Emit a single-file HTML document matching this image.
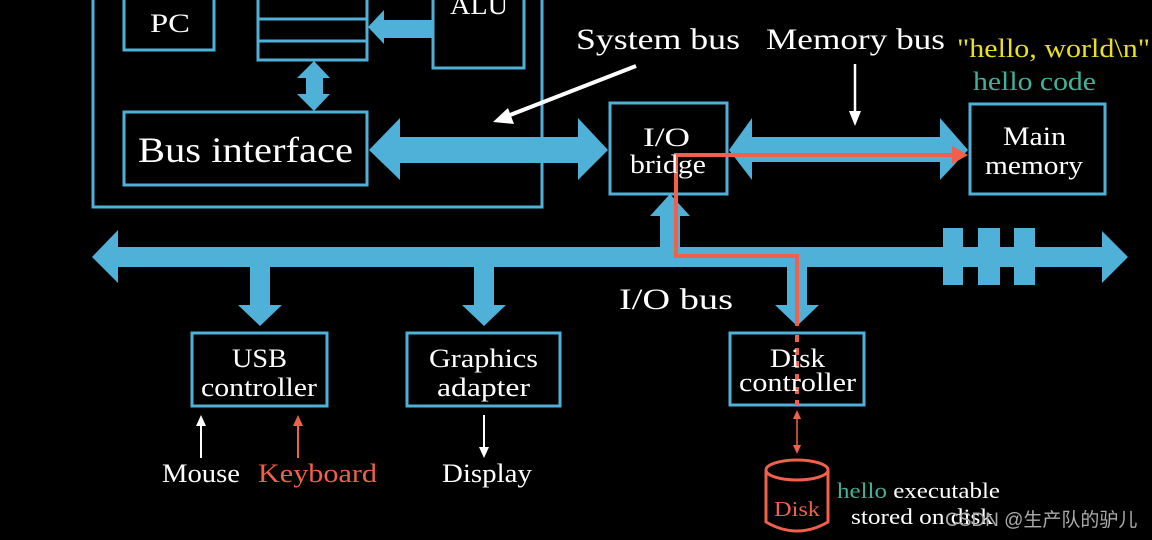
<!DOCTYPE html>
<html><head><meta charset="utf-8"><style>
html,body{margin:0;padding:0;background:#000;width:1152px;height:540px;overflow:hidden}
svg{display:block}
text{font-family:"Liberation Serif",serif;fill:#fff}
</style></head><body>
<svg width="1152" height="540" viewBox="0 0 1152 540" xmlns="http://www.w3.org/2000/svg">
<g fill="none" stroke="#4fb0d8" stroke-width="3">
<rect x="93" y="-10" width="449" height="217"/>
<rect x="124" y="-10" width="90" height="60"/>
<rect x="258" y="-10" width="109" height="70"/>
<line x1="258" y1="19" x2="367" y2="19"/>
<line x1="258" y1="41" x2="367" y2="41"/>
<rect x="433" y="-10" width="91" height="78"/>
<rect x="124" y="112" width="243" height="73"/>
<rect x="610" y="103" width="117" height="91"/>
<rect x="970" y="104" width="135" height="90"/>
<rect x="192" y="333" width="135" height="73"/>
<rect x="407" y="333" width="153" height="73"/>
<rect x="730" y="333" width="134" height="72"/>
</g>
<g fill="#4fb0d8">
<polygon points="368,27 384,10 384,20 433,20 433,38 384,38 384,44"/>
<polygon points="314,61 330,78 323,78 323,94 330,94 314,111 297,94 306,94 306,78 297,78"/>
<polygon points="369,150 400,118 400,137 578,137 578,118 608,150 578,180 578,163 400,163 400,180"/>
<polygon points="729,150 752,118 752,137 940,137 940,118 968,150 940,180 940,162 752,162 752,180"/>
<polygon points="92,257 118,230 118,247 1102,247 1102,231 1128,257 1102,283 1102,267 118,267 118,283"/>
<rect x="943" y="228" width="20" height="57"/>
<rect x="978" y="228" width="22" height="57"/>
<rect x="1014" y="228" width="21" height="57"/>
<polygon points="670,194 690,216 680,216 680,250 660,250 660,216 650,216"/>
<polygon points="250,265 270,265 270,305 282,305 260,326 238,305 250,305"/>
<polygon points="474,265 494,265 494,305 506,305 484,326 462,305 474,305"/>
<polygon points="787,265 807,265 807,305 819,305 797,326 775,305 787,305"/>
</g>
<polyline points="797,326 797,256 676,256 676,155 955,155" fill="none" stroke="#f0604a" stroke-width="4"/>
<polygon points="968,155 952,146 952,164" fill="#f0604a"/>
<line x1="797" y1="335" x2="797" y2="405" stroke="#f0604a" stroke-width="4" stroke-dasharray="7,6"/>
<line x1="797" y1="418" x2="797" y2="446" stroke="#f0604a" stroke-width="1.5"/>
<polygon points="797,410 793,419 801,419" fill="#f0604a"/>
<polygon points="797,454 793,445 801,445" fill="#f0604a"/>
<g fill="none" stroke="#f0604a" stroke-width="3">
<ellipse cx="797" cy="470" rx="31" ry="10"/>
<path d="M766,470 L766,522 Q797,540 828,522 L828,470"/>
</g>
<line x1="201" y1="458" x2="201" y2="424" stroke="#fff" stroke-width="2"/>
<polygon points="201,415 196,426 206,426" fill="#fff"/>
<line x1="298" y1="458" x2="298" y2="424" stroke="#f0604a" stroke-width="2"/>
<polygon points="298,415 293,426 303,426" fill="#f0604a"/>
<line x1="484" y1="415" x2="484" y2="449" stroke="#fff" stroke-width="2"/>
<polygon points="484,458 479,447 489,447" fill="#fff"/>
<line x1="636" y1="66" x2="505" y2="117" stroke="#fff" stroke-width="4"/>
<polygon points="493,122 508,108 514,124" fill="#fff"/>
<line x1="855" y1="64" x2="855" y2="112" stroke="#fff" stroke-width="2.5"/>
<polygon points="855,126 849,111 861,111" fill="#fff"/>
<g lengthAdjust="spacingAndGlyphs">
<text x="150" y="32" font-size="26" textLength="40" lengthAdjust="spacingAndGlyphs">PC</text>
<text x="450" y="14" font-size="26" textLength="58" lengthAdjust="spacingAndGlyphs">ALU</text>
<text x="138" y="162" font-size="36" textLength="215" lengthAdjust="spacingAndGlyphs">Bus interface</text>
<text x="643" y="146" font-size="26" textLength="47" lengthAdjust="spacingAndGlyphs">I/O</text>
<text x="630" y="173" font-size="26" textLength="76" lengthAdjust="spacingAndGlyphs">bridge</text>
<text x="1003" y="145" font-size="26" textLength="63" lengthAdjust="spacingAndGlyphs">Main</text>
<text x="985" y="174" font-size="26" textLength="98" lengthAdjust="spacingAndGlyphs">memory</text>
<text x="576" y="49" font-size="30" textLength="164" lengthAdjust="spacingAndGlyphs">System bus</text>
<text x="766" y="49" font-size="30" textLength="179" lengthAdjust="spacingAndGlyphs">Memory bus</text>
<text x="957" y="57" font-size="26" textLength="193" lengthAdjust="spacingAndGlyphs" style="fill:#e8e020">"hello, world\n"</text>
<text x="973" y="90" font-size="26" textLength="123" lengthAdjust="spacingAndGlyphs" style="fill:#3fb39a">hello code</text>
<text x="619" y="309" font-size="30" textLength="114" lengthAdjust="spacingAndGlyphs">I/O bus</text>
<text x="232" y="367" font-size="26" textLength="55" lengthAdjust="spacingAndGlyphs">USB</text>
<text x="201" y="396" font-size="26" textLength="116" lengthAdjust="spacingAndGlyphs">controller</text>
<text x="429" y="367" font-size="26" textLength="109" lengthAdjust="spacingAndGlyphs">Graphics</text>
<text x="437" y="396" font-size="26" textLength="93" lengthAdjust="spacingAndGlyphs">adapter</text>
<text x="770" y="367" font-size="26" textLength="55" lengthAdjust="spacingAndGlyphs">Disk</text>
<text x="739" y="391" font-size="26" textLength="117" lengthAdjust="spacingAndGlyphs">controller</text>
<text x="162" y="482" font-size="26" textLength="78" lengthAdjust="spacingAndGlyphs">Mouse</text>
<text x="258" y="482" font-size="26" textLength="119" lengthAdjust="spacingAndGlyphs" style="fill:#f0604a">Keyboard</text>
<text x="442" y="482" font-size="26" textLength="90" lengthAdjust="spacingAndGlyphs">Display</text>
<text x="774" y="516" font-size="21" textLength="46" lengthAdjust="spacingAndGlyphs" style="fill:#f0604a">Disk</text>
<text x="837" y="498" font-size="22" textLength="163" lengthAdjust="spacingAndGlyphs"><tspan style="fill:#3fb39a">hello</tspan> executable</text>
<text x="851" y="524" font-size="22" textLength="142" lengthAdjust="spacingAndGlyphs">stored on disk</text>
<text x="945" y="526" font-size="19" style="fill:#aaa;font-family:'Liberation Sans','Noto Sans CJK SC',sans-serif">CSDN @生产队的驴儿</text>
</g>
</svg>
</body></html>
